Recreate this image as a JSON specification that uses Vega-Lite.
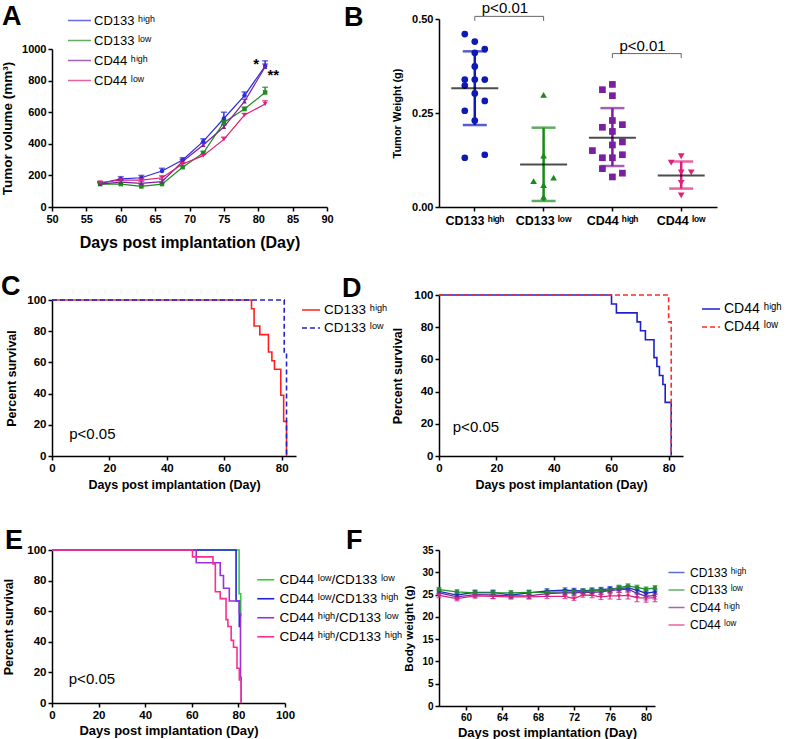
{
"$schema": "https://vega.github.io/schema/vega-lite/v6.json",
"background": "white",
"padding": {"left": 0, "top": 0, "right": 5, "bottom": 5},
"config": {
  "view": {"stroke": null},
  "font": "Liberation Sans",
  "axis": {"grid": false, "domainColor": "#000", "domainWidth": 1.5, "tickColor": "#000", "tickWidth": 1.5, "tickSize": 4, "labelColor": "#000", "labelFontWeight": "bold", "labelFont": "Liberation Sans", "titleColor": "#000", "titleFont": "Liberation Sans", "titleFontWeight": "bold", "labelPadding": 2, "labelFlush": false, "labelOverlap": false},
  "legend": {"labelFont": "Liberation Sans", "labelColor": "#000", "labelLimit": 400},
  "title": {"font": "Liberation Sans", "fontSize": 27, "fontWeight": "bold", "anchor": "start", "frame": "group", "color": "#000", "offset": 0, "baseline": "alphabetic"}
},
"columns": 2,
"spacing": {"row": 88, "column": 112},
"bounds": "flush",
"resolve": {"scale": {"color": "independent", "shape": "independent", "strokeDash": "independent"}, "legend": {"color": "independent", "shape": "independent", "strokeDash": "independent"}},
"concat": [
   {
    "title": {"text": "A", "dx": -50, "dy": 23},
    "width": 275, "height": 188,
    "data": {"values": [
     {"g":"CD133 ʰⁱᵍʰ","d":57,"v":148,"h":160},{"g":"CD133 ʰⁱᵍʰ","d":60,"v":178,"h":192},{"g":"CD133 ʰⁱᵍʰ","d":63,"v":185,"h":200},{"g":"CD133 ʰⁱᵍʰ","d":66,"v":228,"h":245},{"g":"CD133 ʰⁱᵍʰ","d":69,"v":298,"h":312},{"g":"CD133 ʰⁱᵍʰ","d":72,"v":415,"h":432},{"g":"CD133 ʰⁱᵍʰ","d":75,"v":560,"h":600},{"g":"CD133 ʰⁱᵍʰ","d":78,"v":705,"h":728},{"g":"CD133 ʰⁱᵍʰ","d":81,"v":892,"h":925},
     {"g":"CD133 ˡᵒʷ","d":57,"v":145,"h":155},{"g":"CD133 ˡᵒʷ","d":60,"v":145,"h":155},{"g":"CD133 ˡᵒʷ","d":63,"v":130,"h":140},{"g":"CD133 ˡᵒʷ","d":66,"v":145,"h":155},{"g":"CD133 ˡᵒʷ","d":69,"v":252,"h":262},{"g":"CD133 ˡᵒʷ","d":72,"v":342,"h":352},{"g":"CD133 ˡᵒʷ","d":75,"v":535,"h":550},{"g":"CD133 ˡᵒʷ","d":78,"v":620,"h":632},{"g":"CD133 ˡᵒʷ","d":81,"v":725,"h":758},
     {"g":"CD44 ʰⁱᵍʰ","d":57,"v":145,"h":155},{"g":"CD44 ʰⁱᵍʰ","d":60,"v":158,"h":170},{"g":"CD44 ʰⁱᵍʰ","d":63,"v":150,"h":162},{"g":"CD44 ʰⁱᵍʰ","d":66,"v":160,"h":175},{"g":"CD44 ʰⁱᵍʰ","d":69,"v":288,"h":300},{"g":"CD44 ʰⁱᵍʰ","d":72,"v":392,"h":405},{"g":"CD44 ʰⁱᵍʰ","d":75,"v":506,"h":520},{"g":"CD44 ʰⁱᵍʰ","d":78,"v":668,"h":682},{"g":"CD44 ʰⁱᵍʰ","d":81,"v":886,"h":905},
     {"g":"CD44 ˡᵒʷ","d":57,"v":155,"h":162},{"g":"CD44 ˡᵒʷ","d":60,"v":170,"h":178},{"g":"CD44 ˡᵒʷ","d":63,"v":170,"h":180},{"g":"CD44 ˡᵒʷ","d":66,"v":185,"h":197},{"g":"CD44 ˡᵒʷ","d":69,"v":272,"h":282},{"g":"CD44 ˡᵒʷ","d":72,"v":325,"h":334},{"g":"CD44 ˡᵒʷ","d":75,"v":428,"h":442},{"g":"CD44 ˡᵒʷ","d":78,"v":582,"h":592},{"g":"CD44 ˡᵒʷ","d":81,"v":652,"h":672}
    ]},
    "encoding": {
     "x": {"field": "d", "type": "quantitative", "scale": {"domain": [50, 90]}, "axis": {"values": [50,55,60,65,70,75,80,85,90], "title": "Days post implantation (Day)", "titleFontSize": 16, "labelFontSize": 11, "titlePadding": 10, "labelOverlap": false}},
     "y": {"field": "v", "type": "quantitative", "title": "Tumor volume (mm³)", "scale": {"domain": [0, 1000], "range": [188, 30]}, "axis": {"values": [0,200,400,600,800,1000], "format": "d", "titleFontSize": 13.5, "labelFontSize": 11, "titlePadding": 7, "labelOverlap": false}},
     "color": {"field": "g", "type": "nominal", "scale": {"domain": ["CD133 ʰⁱᵍʰ","CD133 ˡᵒʷ","CD44 ʰⁱᵍʰ","CD44 ˡᵒʷ"], "range": ["#2b2bdc","#1f8a1f","#7d1f9e","#de1f79"]}, "legend": {"orient": "none", "legendX": 19, "legendY": -7, "title": null, "symbolType": "M-1.5,0H1.5", "symbolSize": 235, "symbolStrokeWidth": 1.5, "labelFontSize": 13, "rowPadding": 4, "labelOffset": 6}}
    },
    "layer": [
     {"mark": {"type": "line", "strokeWidth": 1.2}},
     {"mark": {"type": "rule", "strokeWidth": 1.5}, "encoding": {"y2": {"field": "h"}}},
     {"mark": {"type": "tick", "orient": "horizontal", "size": 6, "thickness": 1.5}, "encoding": {"y": {"field": "h", "type": "quantitative", "title": "Tumor volume (mm³)", "axis": {"values": [0,200,400,600,800,1000], "format": "d", "titleFontSize": 13.5, "labelFontSize": 11, "titlePadding": 7, "labelOverlap": false}}}},
     {"mark": {"type": "point", "filled": true, "size": 20, "opacity": 1}, "encoding": {"shape": {"field": "g", "type": "nominal", "scale": {"domain": ["CD44 ˡᵒʷ","CD44 ʰⁱᵍʰ","CD133 ˡᵒʷ","CD133 ʰⁱᵍʰ"], "range": ["triangle-down","triangle-up","square","circle"]}, "legend": null}}},
     {"data": {"values": [{"t": "*", "d": 79.7, "v": 905}, {"t": "**", "d": 82.2, "v": 838}]}, "mark": {"type": "text", "fontSize": 15, "fontWeight": "bold"}, "encoding": {"text": {"field": "t"}, "color": {"value": "#000"}}}
    ]
   },
   {
    "title": {"text": "B", "dx": -95, "dy": 35},
    "width": 278, "height": 188,
    "encoding": {
     "x": {"field": "g", "type": "nominal", "sort": null, "scale": {"type": "band", "domain": ["CD133 ʰⁱᵍʰ","CD133 ˡᵒʷ","CD44 ʰⁱᵍʰ","CD44 ˡᵒʷ"], "paddingInner": 0, "paddingOuter": 0.02}, "axis": {"title": null, "labelAngle": 0, "labelFontSize": 12.5, "labelPadding": 3}}
    },
    "layer": [
     {"data": {"values": [
       {"g":"CD133 ʰⁱᵍʰ","w":0.460,"j":-1},{"g":"CD133 ʰⁱᵍʰ","w":0.440,"j":0},{"g":"CD133 ʰⁱᵍʰ","w":0.420,"j":1},{"g":"CD133 ʰⁱᵍʰ","w":0.410,"j":0},{"g":"CD133 ʰⁱᵍʰ","w":0.374,"j":0},{"g":"CD133 ʰⁱᵍʰ","w":0.339,"j":-1},{"g":"CD133 ʰⁱᵍʰ","w":0.339,"j":0},{"g":"CD133 ʰⁱᵍʰ","w":0.339,"j":1},{"g":"CD133 ʰⁱᵍʰ","w":0.323,"j":-1},{"g":"CD133 ʰⁱᵍʰ","w":0.302,"j":0},{"g":"CD133 ʰⁱᵍʰ","w":0.282,"j":1},{"g":"CD133 ʰⁱᵍʰ","w":0.256,"j":-1},{"g":"CD133 ʰⁱᵍʰ","w":0.230,"j":0},{"g":"CD133 ʰⁱᵍʰ","w":0.131,"j":-1},{"g":"CD133 ʰⁱᵍʰ","w":0.139,"j":1},
       {"g":"CD133 ˡᵒʷ","w":0.298,"j":0},{"g":"CD133 ˡᵒʷ","w":0.137,"j":0},{"g":"CD133 ˡᵒʷ","w":0.069,"j":-1},{"g":"CD133 ˡᵒʷ","w":0.078,"j":1},{"g":"CD133 ˡᵒʷ","w":0.058,"j":0},{"g":"CD133 ˡᵒʷ","w":0.027,"j":0},
       {"g":"CD44 ʰⁱᵍʰ","w":0.312,"j":-1},{"g":"CD44 ʰⁱᵍʰ","w":0.326,"j":0},{"g":"CD44 ʰⁱᵍʰ","w":0.296,"j":0},{"g":"CD44 ʰⁱᵍʰ","w":0.230,"j":0},{"g":"CD44 ʰⁱᵍʰ","w":0.212,"j":-1},{"g":"CD44 ʰⁱᵍʰ","w":0.219,"j":1},{"g":"CD44 ʰⁱᵍʰ","w":0.201,"j":0},{"g":"CD44 ʰⁱᵍʰ","w":0.150,"j":-2},{"g":"CD44 ʰⁱᵍʰ","w":0.165,"j":0},{"g":"CD44 ʰⁱᵍʰ","w":0.173,"j":1},{"g":"CD44 ʰⁱᵍʰ","w":0.131,"j":-1},{"g":"CD44 ʰⁱᵍʰ","w":0.131,"j":0},{"g":"CD44 ʰⁱᵍʰ","w":0.139,"j":1},{"g":"CD44 ʰⁱᵍʰ","w":0.102,"j":-1},{"g":"CD44 ʰⁱᵍʰ","w":0.090,"j":1},{"g":"CD44 ʰⁱᵍʰ","w":0.080,"j":0},
       {"g":"CD44 ˡᵒʷ","w":0.118,"j":-1},{"g":"CD44 ˡᵒʷ","w":0.135,"j":0},{"g":"CD44 ˡᵒʷ","w":0.092,"j":1},{"g":"CD44 ˡᵒʷ","w":0.092,"j":0},{"g":"CD44 ˡᵒʷ","w":0.064,"j":0},{"g":"CD44 ˡᵒʷ","w":0.031,"j":0}
      ]},
      "mark": {"type": "point", "filled": true, "size": 45, "opacity": 1},
      "encoding": {
       "xOffset": {"field": "j", "type": "quantitative", "scale": {"domain": [-2, 2], "range": [14.4, 54.4]}},
       "y": {"field": "w", "type": "quantitative", "title": "Tumor Weight (g)", "scale": {"domain": [0, 0.5]}, "axis": {"values": [0, 0.25, 0.5], "format": ".2f", "titleFontSize": 11, "labelFontSize": 11, "titlePadding": 9}},
       "color": {"field": "g", "type": "nominal", "scale": {"domain": ["CD133 ʰⁱᵍʰ","CD133 ˡᵒʷ","CD44 ʰⁱᵍʰ","CD44 ˡᵒʷ"], "range": ["#0d1ab4","#1a8a1a","#7a1fa0","#e0207a"]}, "legend": null},
       "shape": {"field": "g", "type": "nominal", "scale": {"domain": ["CD133 ʰⁱᵍʰ","CD133 ˡᵒʷ","CD44 ʰⁱᵍʰ","CD44 ˡᵒʷ"], "range": ["circle","triangle-up","square","triangle-down"]}, "legend": null}
      }
     },
     {"data": {"values": [
       {"g":"CD133 ʰⁱᵍʰ","m":0.316,"lo":0.218,"hi":0.414},
       {"g":"CD133 ˡᵒʷ","m":0.113,"lo":0.016,"hi":0.211},
       {"g":"CD44 ʰⁱᵍʰ","m":0.184,"lo":0.109,"hi":0.263},
       {"g":"CD44 ˡᵒʷ","m":0.084,"lo":0.049,"hi":0.121}
      ]},
      "layer": [
       {"mark": {"type": "rule", "strokeWidth": 2.5}, "encoding": {"y": {"field": "lo", "type": "quantitative", "title": "Tumor Weight (g)"}, "y2": {"field": "hi"}, "color": {"field": "g", "type": "nominal", "legend": null}}},
       {"mark": {"type": "tick", "size": 24, "thickness": 2.5}, "encoding": {"y": {"field": "lo", "type": "quantitative", "title": "Tumor Weight (g)"}, "color": {"field": "g", "type": "nominal", "legend": null}}},
       {"mark": {"type": "tick", "size": 24, "thickness": 2.5}, "encoding": {"y": {"field": "hi", "type": "quantitative", "title": "Tumor Weight (g)"}, "color": {"field": "g", "type": "nominal", "legend": null}}},
       {"mark": {"type": "tick", "size": 47, "thickness": 2, "color": "#000"}, "encoding": {"y": {"field": "m", "type": "quantitative", "title": "Tumor Weight (g)"}}}
      ]
     },
     {"data": {"values": [
       {"g":"CD133 ʰⁱᵍʰ","y":0.495,"o":1,"b":1},{"g":"CD133 ʰⁱᵍʰ","y":0.507,"o":2,"b":1},{"g":"CD133 ˡᵒʷ","y":0.507,"o":3,"b":1},{"g":"CD133 ˡᵒʷ","y":0.495,"o":4,"b":1},
       {"g":"CD44 ʰⁱᵍʰ","y":0.396,"o":1,"b":2},{"g":"CD44 ʰⁱᵍʰ","y":0.408,"o":2,"b":2},{"g":"CD44 ˡᵒʷ","y":0.408,"o":3,"b":2},{"g":"CD44 ˡᵒʷ","y":0.396,"o":4,"b":2}
      ]},
      "mark": {"type": "line", "color": "#666", "strokeWidth": 1},
      "encoding": {"y": {"field": "y", "type": "quantitative", "title": "Tumor Weight (g)"}, "detail": {"field": "b"}, "order": {"field": "o"}}
     },
     {"data": {"values": [{"g":"CD133 ʰⁱᵍʰ","y":0.517,"t":"p<0.01"},{"g":"CD44 ʰⁱᵍʰ","y":0.416,"t":"p<0.01"}]},
      "mark": {"type": "text", "align": "left", "baseline": "alphabetic", "fontSize": 15, "dx": 7, "color": "#000"},
      "encoding": {"y": {"field": "y", "type": "quantitative", "title": "Tumor Weight (g)"}, "text": {"field": "t"}}
     }
    ]
   },
   {
    "title": {"text": "C", "dx": -51, "dy": 11},
    "width": 244, "height": 161,
    "encoding": {
     "x": {"field": "d", "type": "quantitative", "scale": {"domain": [0, 85]}, "axis": {"values": [0,20,40,60,80], "title": "Days post implantation (Day)", "titleFontSize": 12.5, "labelFontSize": 11.5, "titlePadding": 5, "labelOverlap": false}},
     "y": {"field": "s", "type": "quantitative", "scale": {"domain": [0, 100], "range": [161, 5]}, "axis": {"values": [0,20,40,60,80,100], "title": "Percent survival", "titleFontSize": 12.5, "labelFontSize": 11.5, "titlePadding": 8, "labelOverlap": false}}
    },
    "layer": [
     {"data": {"values": [
       {"g":"CD133 ʰⁱᵍʰ","d":0,"s":100},{"g":"CD133 ʰⁱᵍʰ","d":69.5,"s":94.4},{"g":"CD133 ʰⁱᵍʰ","d":70.4,"s":83.3},{"g":"CD133 ʰⁱᵍʰ","d":72.4,"s":77.8},{"g":"CD133 ʰⁱᵍʰ","d":75.4,"s":66.7},{"g":"CD133 ʰⁱᵍʰ","d":76.6,"s":61.1},{"g":"CD133 ʰⁱᵍʰ","d":77.5,"s":55.6},{"g":"CD133 ʰⁱᵍʰ","d":79.7,"s":38.9},{"g":"CD133 ʰⁱᵍʰ","d":80.7,"s":22.2},{"g":"CD133 ʰⁱᵍʰ","d":81.7,"s":0},
       {"g":"CD133 ˡᵒʷ","d":0,"s":100},{"g":"CD133 ˡᵒʷ","d":80.9,"s":66.7},{"g":"CD133 ˡᵒʷ","d":81.7,"s":0}
      ]},
      "mark": {"type": "line", "interpolate": "step-after", "strokeWidth": 1.6},
      "encoding": {
       "color": {"field": "g", "type": "nominal", "scale": {"domain": ["CD133 ʰⁱᵍʰ","CD133 ˡᵒʷ"], "range": ["#ff1f1f","#2323c8"]}, "legend": {"orient": "none", "legendX": 252, "legendY": 8, "title": null, "symbolType": "M-1.5,0H1.5", "symbolSize": 144, "symbolStrokeWidth": 1.6, "labelFontSize": 13.5, "rowPadding": 4, "labelOffset": 6}},
       "strokeDash": {"field": "g", "type": "nominal", "scale": {"domain": ["CD133 ʰⁱᵍʰ","CD133 ˡᵒʷ"], "range": [[1,0],[5,3]]}, "legend": {"orient": "none", "legendX": 252, "legendY": 8, "title": null, "symbolType": "M-1.5,0H1.5", "symbolSize": 144, "symbolStrokeWidth": 1.6, "labelFontSize": 13.5, "rowPadding": 4, "labelOffset": 6}}
      }
     },
     {"data": {"values": [{"t": "p<0.05", "d": 6, "s": 11}]},
      "mark": {"type": "text", "align": "left", "baseline": "alphabetic", "fontSize": 15, "color": "#000"},
      "encoding": {"text": {"field": "t"}}}
    ]
   },
   {
    "title": {"text": "D", "dx": -97, "dy": 18},
    "width": 244, "height": 161,
    "encoding": {
     "x": {"field": "d", "type": "quantitative", "scale": {"domain": [0, 85]}, "axis": {"values": [0,20,40,60,80], "title": "Days post implantation (Day)", "titleFontSize": 12.5, "labelFontSize": 11.5, "titlePadding": 5, "labelOverlap": false}},
     "y": {"field": "s", "type": "quantitative", "scale": {"domain": [0, 100]}, "axis": {"values": [0,20,40,60,80,100], "title": "Percent survival", "titleFontSize": 12.5, "labelFontSize": 11.5, "titlePadding": 9, "labelOverlap": false}}
    },
    "layer": [
     {"data": {"values": [
       {"g":"CD44 ʰⁱᵍʰ","d":0,"s":100},{"g":"CD44 ʰⁱᵍʰ","d":60.1,"s":94.4},{"g":"CD44 ʰⁱᵍʰ","d":61.8,"s":88.9},{"g":"CD44 ʰⁱᵍʰ","d":69.0,"s":83.3},{"g":"CD44 ʰⁱᵍʰ","d":70.2,"s":77.8},{"g":"CD44 ʰⁱᵍʰ","d":71.9,"s":72.2},{"g":"CD44 ʰⁱᵍʰ","d":74.9,"s":61.1},{"g":"CD44 ʰⁱᵍʰ","d":75.9,"s":55.6},{"g":"CD44 ʰⁱᵍʰ","d":76.8,"s":50},{"g":"CD44 ʰⁱᵍʰ","d":78.0,"s":44.4},{"g":"CD44 ʰⁱᵍʰ","d":78.8,"s":33.3},{"g":"CD44 ʰⁱᵍʰ","d":80.9,"s":0},
       {"g":"CD44 ˡᵒʷ","d":0,"s":100},{"g":"CD44 ˡᵒʷ","d":80.0,"s":83.3},{"g":"CD44 ˡᵒʷ","d":80.9,"s":0}
      ]},
      "mark": {"type": "line", "interpolate": "step-after", "strokeWidth": 1.6},
      "encoding": {
       "color": {"field": "g", "type": "nominal", "scale": {"domain": ["CD44 ʰⁱᵍʰ","CD44 ˡᵒʷ"], "range": ["#1f1fcc","#ff2a2a"]}, "legend": {"orient": "none", "legendX": 265, "legendY": 7, "title": null, "symbolType": "M-1.5,0H1.5", "symbolSize": 144, "symbolStrokeWidth": 1.6, "labelFontSize": 14, "rowPadding": 4, "labelOffset": 6}},
       "strokeDash": {"field": "g", "type": "nominal", "scale": {"domain": ["CD44 ʰⁱᵍʰ","CD44 ˡᵒʷ"], "range": [[1,0],[5,3]]}, "legend": {"orient": "none", "legendX": 265, "legendY": 7, "title": null, "symbolType": "M-1.5,0H1.5", "symbolSize": 144, "symbolStrokeWidth": 1.6, "labelFontSize": 14, "rowPadding": 4, "labelOffset": 6}}
      }
     },
     {"data": {"values": [{"t": "p<0.05", "d": 4.8, "s": 15}]},
      "mark": {"type": "text", "align": "left", "baseline": "alphabetic", "fontSize": 15, "color": "#000"},
      "encoding": {"text": {"field": "t"}}}
    ]
   },
  {
   "title": {"text": "E", "dx": -47, "dy": 15},
   "width": 233, "height": 159,
   "encoding": {
    "x": {"field": "d", "type": "quantitative", "scale": {"domain": [0, 100]}, "axis": {"values": [0,20,40,60,80,100], "title": "Days post implantation (Day)", "titleFontSize": 13, "labelFontSize": 11.5, "titlePadding": 4, "labelOverlap": false}},
    "y": {"field": "s", "type": "quantitative", "scale": {"domain": [0, 100], "range": [159, 6]}, "axis": {"values": [0,20,40,60,80,100], "title": "Percent survival", "titleFontSize": 12.5, "labelFontSize": 11.5, "titlePadding": 11, "labelOverlap": false}}
   },
   "layer": [
    {"data": {"values": [
      {"g":"CD44 ˡᵒʷ/CD133 ˡᵒʷ","d":0,"s":100},{"g":"CD44 ˡᵒʷ/CD133 ˡᵒʷ","d":80.3,"s":71.4},{"g":"CD44 ˡᵒʷ/CD133 ˡᵒʷ","d":81.0,"s":57.1},{"g":"CD44 ˡᵒʷ/CD133 ˡᵒʷ","d":81.4,"s":57.1},
      {"g":"CD44 ˡᵒʷ/CD133 ʰⁱᵍʰ","d":0,"s":100},{"g":"CD44 ˡᵒʷ/CD133 ʰⁱᵍʰ","d":79.0,"s":66.7},{"g":"CD44 ˡᵒʷ/CD133 ʰⁱᵍʰ","d":80.4,"s":50},{"g":"CD44 ˡᵒʷ/CD133 ʰⁱᵍʰ","d":80.9,"s":50},
      {"g":"CD44 ʰⁱᵍʰ/CD133 ˡᵒʷ","d":0,"s":100},{"g":"CD44 ʰⁱᵍʰ/CD133 ˡᵒʷ","d":61.9,"s":91.7},{"g":"CD44 ʰⁱᵍʰ/CD133 ˡᵒʷ","d":72.2,"s":83.3},{"g":"CD44 ʰⁱᵍʰ/CD133 ˡᵒʷ","d":73.6,"s":75},{"g":"CD44 ʰⁱᵍʰ/CD133 ˡᵒʷ","d":76.1,"s":66.7},{"g":"CD44 ʰⁱᵍʰ/CD133 ˡᵒʷ","d":80.4,"s":58.3},{"g":"CD44 ʰⁱᵍʰ/CD133 ˡᵒʷ","d":80.9,"s":16.7},{"g":"CD44 ʰⁱᵍʰ/CD133 ˡᵒʷ","d":81.2,"s":0},
      {"g":"CD44 ʰⁱᵍʰ/CD133 ʰⁱᵍʰ","d":0,"s":100},{"g":"CD44 ʰⁱᵍʰ/CD133 ʰⁱᵍʰ","d":60.3,"s":95.5},{"g":"CD44 ʰⁱᵍʰ/CD133 ʰⁱᵍʰ","d":69.1,"s":90.9},{"g":"CD44 ʰⁱᵍʰ/CD133 ʰⁱᵍʰ","d":70.1,"s":72.7},{"g":"CD44 ʰⁱᵍʰ/CD133 ʰⁱᵍʰ","d":72.2,"s":68.2},{"g":"CD44 ʰⁱᵍʰ/CD133 ʰⁱᵍʰ","d":74.7,"s":54.5},{"g":"CD44 ʰⁱᵍʰ/CD133 ʰⁱᵍʰ","d":75.5,"s":50},{"g":"CD44 ʰⁱᵍʰ/CD133 ʰⁱᵍʰ","d":76.9,"s":40.9},{"g":"CD44 ʰⁱᵍʰ/CD133 ʰⁱᵍʰ","d":77.9,"s":36.4},{"g":"CD44 ʰⁱᵍʰ/CD133 ʰⁱᵍʰ","d":79.4,"s":22.7},{"g":"CD44 ʰⁱᵍʰ/CD133 ʰⁱᵍʰ","d":80.4,"s":15},{"g":"CD44 ʰⁱᵍʰ/CD133 ʰⁱᵍʰ","d":81.2,"s":0}
     ]},
     "mark": {"type": "line", "interpolate": "step-after", "strokeWidth": 1.6},
     "encoding": {
      "color": {"field": "g", "type": "nominal", "scale": {"domain": ["CD44 ˡᵒʷ/CD133 ˡᵒʷ","CD44 ˡᵒʷ/CD133 ʰⁱᵍʰ","CD44 ʰⁱᵍʰ/CD133 ˡᵒʷ","CD44 ʰⁱᵍʰ/CD133 ʰⁱᵍʰ"], "range": ["#33cc33","#2020dd","#9b30e0","#ff2d8a"]}, "legend": {"orient": "none", "legendX": 207, "legendY": 29, "title": null, "symbolType": "M-1.5,0H1.5", "symbolSize": 128, "symbolStrokeWidth": 1.6, "labelFontSize": 13.5, "rowPadding": 4, "labelOffset": 7}}
     }
    },
    {"data": {"values": [{"t": "p<0.05", "d": 7.2, "s": 12.6}]},
     "mark": {"type": "text", "align": "left", "baseline": "alphabetic", "fontSize": 15, "color": "#000"},
     "encoding": {"text": {"field": "t"}}}
   ]
  },
  {
   "title": {"text": "F", "dx": -93, "dy": 15},
   "width": 216, "height": 162,
   "data": {"values": [
    {"g":"CD133 ʰⁱᵍʰ","d":57,"w":25.7,"e":0.5},{"g":"CD133 ʰⁱᵍʰ","d":59,"w":24.9,"e":0.5},{"g":"CD133 ʰⁱᵍʰ","d":61,"w":25.5,"e":0.5},{"g":"CD133 ʰⁱᵍʰ","d":63,"w":25.5,"e":0.5},{"g":"CD133 ʰⁱᵍʰ","d":65,"w":24.9,"e":0.5},{"g":"CD133 ʰⁱᵍʰ","d":67,"w":25.4,"e":0.5},{"g":"CD133 ʰⁱᵍʰ","d":69,"w":25.8,"e":0.5},{"g":"CD133 ʰⁱᵍʰ","d":71,"w":26.0,"e":0.5},{"g":"CD133 ʰⁱᵍʰ","d":72,"w":25.9,"e":0.5},{"g":"CD133 ʰⁱᵍʰ","d":73,"w":25.8,"e":0.5},{"g":"CD133 ʰⁱᵍʰ","d":74,"w":26.0,"e":0.5},{"g":"CD133 ʰⁱᵍʰ","d":75,"w":26.1,"e":0.5},{"g":"CD133 ʰⁱᵍʰ","d":76,"w":26.3,"e":0.5},{"g":"CD133 ʰⁱᵍʰ","d":77,"w":26.4,"e":0.5},{"g":"CD133 ʰⁱᵍʰ","d":78,"w":26.5,"e":0.5},{"g":"CD133 ʰⁱᵍʰ","d":79,"w":26.0,"e":0.6},{"g":"CD133 ʰⁱᵍʰ","d":80,"w":25.3,"e":0.6},{"g":"CD133 ʰⁱᵍʰ","d":81,"w":25.6,"e":0.6},
    {"g":"CD133 ˡᵒʷ","d":57,"w":26.1,"e":0.5},{"g":"CD133 ˡᵒʷ","d":59,"w":25.6,"e":0.5},{"g":"CD133 ˡᵒʷ","d":61,"w":25.4,"e":0.5},{"g":"CD133 ˡᵒʷ","d":63,"w":25.4,"e":0.5},{"g":"CD133 ˡᵒʷ","d":65,"w":25.4,"e":0.5},{"g":"CD133 ˡᵒʷ","d":67,"w":25.5,"e":0.5},{"g":"CD133 ˡᵒʷ","d":69,"w":25.5,"e":0.5},{"g":"CD133 ˡᵒʷ","d":71,"w":25.6,"e":0.5},{"g":"CD133 ˡᵒʷ","d":72,"w":25.6,"e":0.5},{"g":"CD133 ˡᵒʷ","d":73,"w":25.7,"e":0.5},{"g":"CD133 ˡᵒʷ","d":74,"w":25.8,"e":0.5},{"g":"CD133 ˡᵒʷ","d":75,"w":25.9,"e":0.5},{"g":"CD133 ˡᵒʷ","d":76,"w":26.0,"e":0.5},{"g":"CD133 ˡᵒʷ","d":77,"w":26.6,"e":0.5},{"g":"CD133 ˡᵒʷ","d":78,"w":26.9,"e":0.5},{"g":"CD133 ˡᵒʷ","d":79,"w":26.6,"e":0.5},{"g":"CD133 ˡᵒʷ","d":80,"w":26.2,"e":0.5},{"g":"CD133 ˡᵒʷ","d":81,"w":26.5,"e":0.5},
    {"g":"CD44 ʰⁱᵍʰ","d":57,"w":25.4,"e":0.6},{"g":"CD44 ʰⁱᵍʰ","d":59,"w":24.5,"e":0.6},{"g":"CD44 ʰⁱᵍʰ","d":61,"w":25.0,"e":0.6},{"g":"CD44 ʰⁱᵍʰ","d":63,"w":24.9,"e":0.8},{"g":"CD44 ʰⁱᵍʰ","d":65,"w":24.7,"e":0.6},{"g":"CD44 ʰⁱᵍʰ","d":67,"w":24.7,"e":0.6},{"g":"CD44 ʰⁱᵍʰ","d":69,"w":25.2,"e":0.6},{"g":"CD44 ʰⁱᵍʰ","d":71,"w":25.4,"e":0.6},{"g":"CD44 ʰⁱᵍʰ","d":72,"w":25.4,"e":0.6},{"g":"CD44 ʰⁱᵍʰ","d":73,"w":25.5,"e":0.6},{"g":"CD44 ʰⁱᵍʰ","d":74,"w":25.5,"e":0.6},{"g":"CD44 ʰⁱᵍʰ","d":75,"w":25.6,"e":0.6},{"g":"CD44 ʰⁱᵍʰ","d":76,"w":25.9,"e":0.6},{"g":"CD44 ʰⁱᵍʰ","d":77,"w":26.1,"e":0.6},{"g":"CD44 ʰⁱᵍʰ","d":78,"w":26.2,"e":0.6},{"g":"CD44 ʰⁱᵍʰ","d":79,"w":25.3,"e":0.8},{"g":"CD44 ʰⁱᵍʰ","d":80,"w":24.6,"e":0.8},{"g":"CD44 ʰⁱᵍʰ","d":81,"w":24.8,"e":0.8},
    {"g":"CD44 ˡᵒʷ","d":57,"w":24.8,"e":0.5},{"g":"CD44 ˡᵒʷ","d":59,"w":24.1,"e":0.5},{"g":"CD44 ˡᵒʷ","d":61,"w":24.7,"e":0.5},{"g":"CD44 ˡᵒʷ","d":63,"w":24.6,"e":0.5},{"g":"CD44 ˡᵒʷ","d":65,"w":24.5,"e":0.5},{"g":"CD44 ˡᵒʷ","d":67,"w":24.5,"e":0.5},{"g":"CD44 ˡᵒʷ","d":69,"w":24.6,"e":0.5},{"g":"CD44 ˡᵒʷ","d":71,"w":24.6,"e":0.5},{"g":"CD44 ˡᵒʷ","d":72,"w":24.1,"e":0.4},{"g":"CD44 ˡᵒʷ","d":73,"w":24.9,"e":0.5},{"g":"CD44 ˡᵒʷ","d":74,"w":24.8,"e":0.5},{"g":"CD44 ˡᵒʷ","d":75,"w":24.5,"e":0.6},{"g":"CD44 ˡᵒʷ","d":76,"w":24.7,"e":0.7},{"g":"CD44 ˡᵒʷ","d":77,"w":24.7,"e":0.8},{"g":"CD44 ˡᵒʷ","d":78,"w":24.8,"e":0.8},{"g":"CD44 ˡᵒʷ","d":79,"w":24.3,"e":0.9},{"g":"CD44 ˡᵒʷ","d":80,"w":24.2,"e":0.9},{"g":"CD44 ˡᵒʷ","d":81,"w":24.3,"e":0.9}
   ]},
   "encoding": {
    "x": {"field": "d", "type": "quantitative", "scale": {"domain": [57, 81]}, "axis": {"values": [60,64,68,72,76,80], "title": "Days post implantation (Day)", "titleFontSize": 13, "labelFontSize": 10, "titlePadding": 4, "labelOverlap": false}},
    "y": {"field": "w", "type": "quantitative", "title": "Body weight (g)", "scale": {"domain": [0, 35], "range": [162, 6]}, "axis": {"values": [0,5,10,15,20,25,30,35], "titleFontSize": 11.5, "labelFontSize": 10, "titlePadding": 7, "labelOverlap": false}},
    "color": {"field": "g", "type": "nominal", "scale": {"domain": ["CD133 ʰⁱᵍʰ","CD133 ˡᵒʷ","CD44 ʰⁱᵍʰ","CD44 ˡᵒʷ"], "range": ["#1a2fbf","#1f8f2a","#7a24a8","#e0237b"]}, "legend": {"orient": "none", "legendX": 231, "legendY": 22, "title": null, "symbolType": "M-1.5,0H1.5", "symbolSize": 114, "symbolStrokeWidth": 1.5, "labelFontSize": 12, "rowPadding": 4.5, "labelOffset": 7}}
   },
   "layer": [
    {"mark": {"type": "line", "strokeWidth": 1.3}},
    {"mark": {"type": "errorbar", "ticks": {"size": 5, "thickness": 1.2}, "thickness": 1.2}, "encoding": {"yError": {"field": "e"}}},
    {"mark": {"type": "point", "filled": true, "size": 14, "opacity": 1}, "encoding": {"shape": {"field": "g", "type": "nominal", "scale": {"domain": ["CD44 ˡᵒʷ","CD44 ʰⁱᵍʰ","CD133 ˡᵒʷ","CD133 ʰⁱᵍʰ"], "range": ["triangle-down","triangle-up","square","circle"]}, "legend": null}}}
   ]
  }
]
}
